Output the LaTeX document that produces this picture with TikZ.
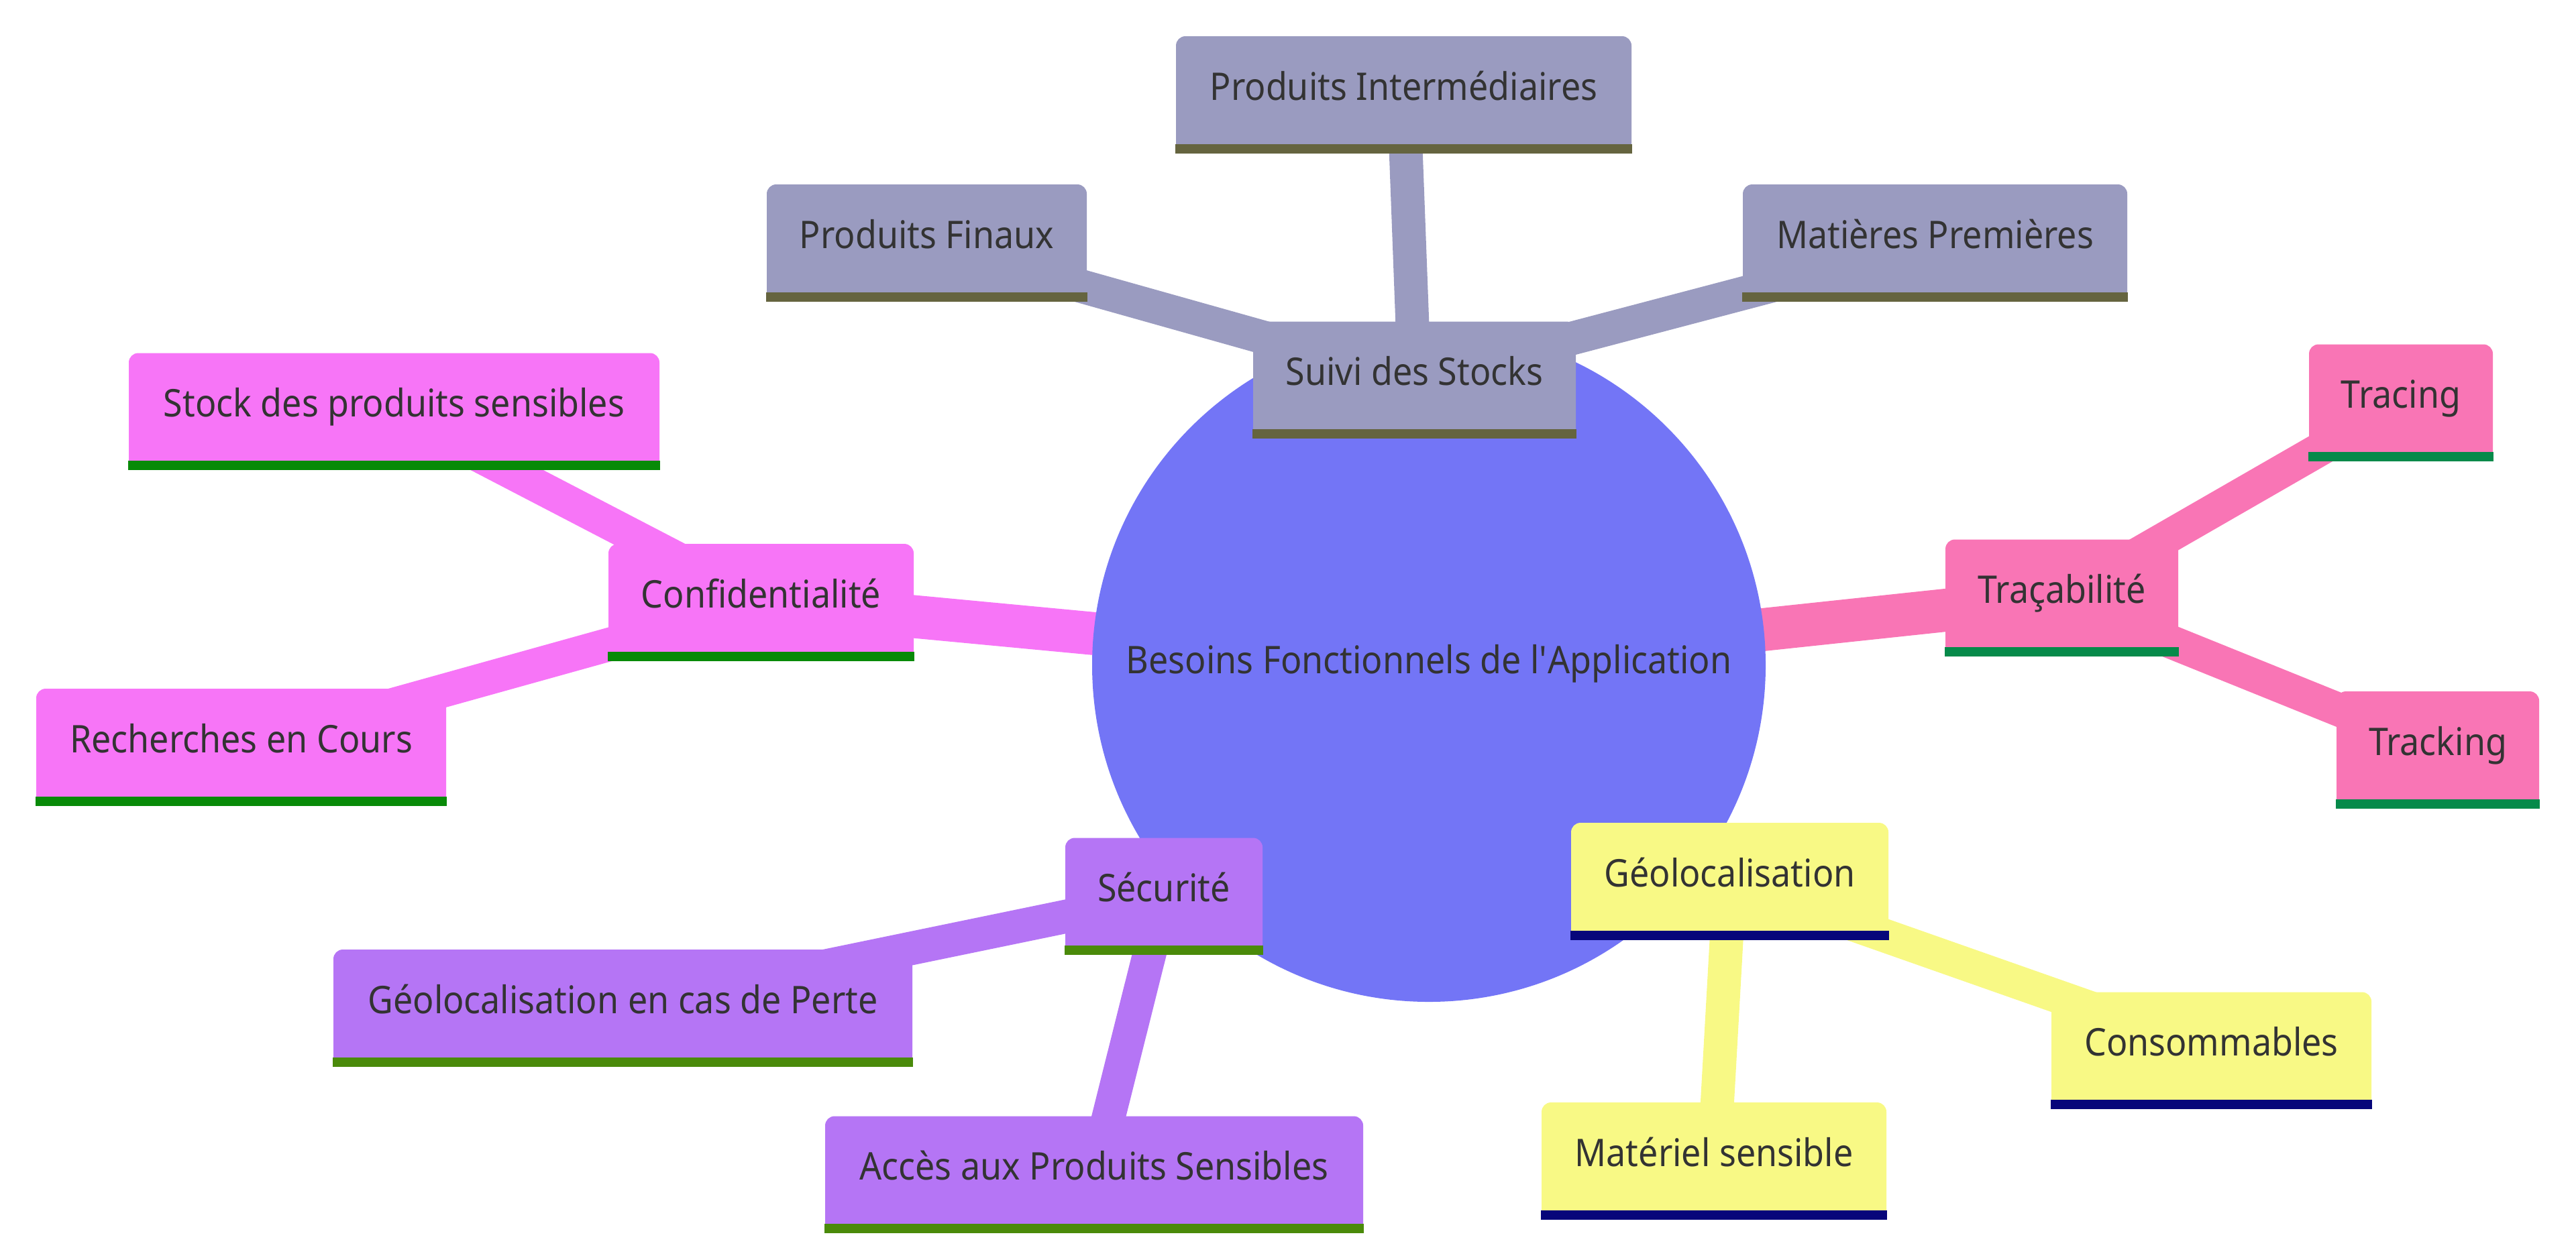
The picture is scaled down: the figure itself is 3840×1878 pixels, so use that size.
\documentclass[tikz,border=0pt]{standalone}
\usepackage{fontspec}
\setmainfont{Noto Sans}[FakeStretch=0.915]
\pgfdeclarelayer{bg}
\pgfsetlayers{bg,main}
\definecolor{rootc}{HTML}{7375F6}
\definecolor{grayf}{HTML}{9A9BC0}
\definecolor{grayb}{HTML}{65643F}
\definecolor{magf}{HTML}{F775F7}
\definecolor{magb}{HTML}{088A08}
\definecolor{pinkf}{HTML}{F975B5}
\definecolor{pinkb}{HTML}{068A4A}
\definecolor{yelf}{HTML}{F8F985}
\definecolor{yelb}{HTML}{07067A}
\definecolor{purf}{HTML}{B575F5}
\definecolor{purb}{HTML}{4A8A0A}
\definecolor{txt}{HTML}{333333}
\newcommand\boxbar[2]{\fill[#2] (#1.south west) rectangle ([yshift=3.5pt]#1.south east);}
\tikzset{
  mbox/.style={rectangle, rounded corners=3.5pt, minimum height=43.5pt, inner sep=0pt,
    text height=10pt, text depth=6pt, text=txt, font=\fontsize{14.2}{17}\selectfont},
  rootnode/.style={circle, fill=rootc, minimum size=251pt, inner sep=0pt,
    text height=10pt, text depth=4pt, text=txt, font=\fontsize{14.2}{17}\selectfont},
  ezero/.style={line width=16pt},
  eone/.style={line width=12.5pt}
}
\begin{document}
\begin{tikzpicture}[x=0.25pt,y=-0.25pt]
\useasboundingbox (0,0) rectangle (3840,1878);
% root
\node[rootnode] (root) at (2130,992) {Besoins Fonctionnels de l\textquotesingle Application};
% Suivi des Stocks branch
\node[mbox, fill=grayf, minimum width=120.25pt] (ss) at (2108.5,566.5) {Suivi des Stocks};
\node[mbox, fill=grayf, minimum width=169.75pt] (pi) at (2092.5,141) {Produits Intermédiaires};
\node[mbox, fill=grayf, minimum width=119.25pt] (pf) at (1381.5,362) {Produits Finaux};
\node[mbox, fill=grayf, minimum width=143.25pt] (mp) at (2884.5,362) {Matières Premières};
% Confidentialite branch
\node[mbox, fill=magf, minimum width=113.75pt] (co) at (1134.5,898) {Confidentialité};
\node[mbox, fill=magf, minimum width=197.75pt] (sp) at (587.5,613.5) {Stock des produits sensibles};
\node[mbox, fill=magf, minimum width=152.75pt] (rc) at (359.5,1114) {Recherches en Cours};
% Tracabilite branch
\node[mbox, fill=pinkf, minimum width=86.75pt] (ta) at (3073.5,891.5) {Traçabilité};
\node[mbox, fill=pinkf, minimum width=68.5pt] (tr) at (3579,600.5) {Tracing};
\node[mbox, fill=pinkf, minimum width=75.5pt] (tk) at (3634,1118) {Tracking};
% Geolocalisation branch
\node[mbox, fill=yelf, minimum width=118.25pt] (ge) at (2578.5,1314) {Géolocalisation};
\node[mbox, fill=yelf, minimum width=119.25pt] (cs) at (3296.5,1566.5) {Consommables};
\node[mbox, fill=yelf, minimum width=128.5pt] (ms) at (2555,1731) {Matériel sensible};
% Securite branch
\node[mbox, fill=purf, minimum width=73.5pt] (se) at (1735,1336.5) {Sécurité};
\node[mbox, fill=purf, minimum width=215.75pt] (gp) at (928.5,1503) {Géolocalisation en cas de Perte};
\node[mbox, fill=purf, minimum width=200.5pt] (ac) at (1631,1751.5) {Accès aux Produits Sensibles};
% bars
\boxbar{ss}{grayb}\boxbar{pi}{grayb}\boxbar{pf}{grayb}\boxbar{mp}{grayb}
\boxbar{co}{magb}\boxbar{sp}{magb}\boxbar{rc}{magb}
\boxbar{ta}{pinkb}\boxbar{tr}{pinkb}\boxbar{tk}{pinkb}
\boxbar{ge}{yelb}\boxbar{cs}{yelb}\boxbar{ms}{yelb}
\boxbar{se}{purb}\boxbar{gp}{purb}\boxbar{ac}{purb}
% connectors
\begin{pgfonlayer}{bg}
\draw[ezero, grayf] (root.center) -- (ss.center);
\draw[ezero, magf] (root.center) -- (co.center);
\draw[ezero, pinkf] (root.center) -- (ta.center);
\draw[ezero, yelf] (root.center) -- (ge.center);
\draw[ezero, purf] (root.center) -- (se.center);
\draw[eone, grayf] (ss.center) -- (pi.center);
\draw[eone, grayf] (ss.center) -- (pf.center);
\draw[eone, grayf] (ss.center) -- (mp.center);
\draw[eone, magf] (co.center) -- (sp.center);
\draw[eone, magf] (co.center) -- (rc.center);
\draw[eone, pinkf] (ta.center) -- (tr.center);
\draw[eone, pinkf] (ta.center) -- (tk.center);
\draw[eone, yelf] (ge.center) -- (cs.center);
\draw[eone, yelf] (ge.center) -- (ms.center);
\draw[eone, purf] (se.center) -- (gp.center);
\draw[eone, purf] (se.center) -- (ac.center);
\end{pgfonlayer}
\end{tikzpicture}
\end{document}
